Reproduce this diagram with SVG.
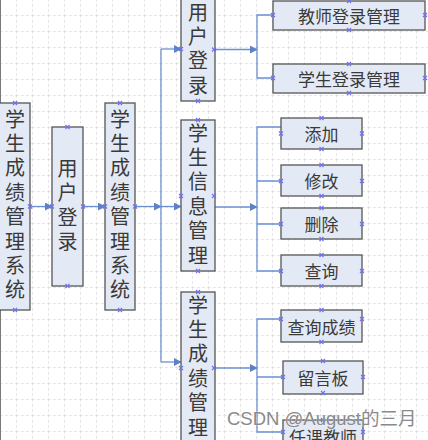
<svg xmlns="http://www.w3.org/2000/svg" width="428" height="440" viewBox="0 0 428 440">
<defs>
<pattern id="grid" patternUnits="userSpaceOnUse" x="0" y="15" width="16" height="16">
<path d="M0 0V16M0 0H16" stroke="#cfcfcf" stroke-width="1" stroke-dasharray="3 2" fill="none"/>
</pattern>
<marker id="arr" viewBox="0 0 10 10" refX="9" refY="5" markerWidth="8" markerHeight="8" markerUnits="userSpaceOnUse" orient="auto">
<path d="M0 0L10 5L0 10z" fill="#5b82c8"/>
</marker>
<symbol id="cp" viewBox="-3 -3 6 6" overflow="visible">
<path d="M-2-2L2 2M-2 2L2-2" stroke="#6f6ff0" stroke-width="1.1"/>
</symbol>
</defs>
<style>
.box{fill:#e4eaf5;stroke:#555;stroke-width:1.3}
.vt{font-family:"Noto Sans CJK SC","Noto Sans CJK JP",sans-serif;font-size:20px;fill:#3a3a3a;writing-mode:vertical-rl;text-orientation:upright;letter-spacing:4.4px}
.ht{font-family:"Noto Sans CJK SC","Noto Sans CJK JP",sans-serif;font-size:17px;fill:#3a3a3a;text-anchor:middle;dominant-baseline:central}
.ln{stroke:#6b90d2;stroke-width:1.3;fill:none}
.wm{font-family:"Liberation Sans","Noto Sans CJK SC",sans-serif;font-size:18.5px;fill:#8a8a8a;stroke:#fff;stroke-width:0.4;paint-order:stroke}
</style>
<rect width="428" height="440" fill="#fff"/>
<rect width="428" height="440" fill="url(#grid)"/>
<line x1="0.5" y1="0" x2="0.5" y2="440" stroke="#7a7a7a" stroke-width="1"/>

<g id="connectors">
<path class="ln" d="M30 206.5H52" marker-end="url(#arr)"/>
<path class="ln" d="M83 206.5H105" marker-end="url(#arr)"/>
<path class="ln" d="M135 206.5H161" marker-end="url(#arr)"/>
<path class="ln" d="M161 206.5H181" marker-end="url(#arr)"/>
<path class="ln" d="M161 49V362"/>
<path class="ln" d="M161 49H181" marker-end="url(#arr)"/>
<path class="ln" d="M161 362H181" marker-end="url(#arr)"/>
<path class="ln" d="M214 49.5H257" marker-end="url(#arr)"/>
<path class="ln" d="M273 15H257V78H273"/>
<path class="ln" d="M214 207H257" marker-end="url(#arr)"/>
<path class="ln" d="M281 127H257V271H281M257 181H281M257 224H281"/>
<path class="ln" d="M214 368H257" marker-end="url(#arr)"/>
<path class="ln" d="M281 319H257V432H283M257 377H283"/>
</g>

<g id="n-sys1">
<rect class="box" x="-1" y="103" width="31" height="207"/>
<text class="vt" x="15" y="109">学生成绩管理系统</text>
<use href="#cp" x="12" y="100" width="6" height="6"/><use href="#cp" x="27" y="203.5" width="6" height="6"/><use href="#cp" x="12" y="307" width="6" height="6"/>
</g>

<g id="n-login1">
<rect class="box" x="52" y="127" width="31" height="159"/>
<text class="vt" x="67.5" y="158" style="letter-spacing:4.5px">用户登录</text>
<use href="#cp" x="64.5" y="124" width="6" height="6"/><use href="#cp" x="49" y="203.5" width="6" height="6"/><use href="#cp" x="80" y="203.5" width="6" height="6"/><use href="#cp" x="64.5" y="283" width="6" height="6"/>
</g>

<g id="n-sys2">
<rect class="box" x="105" y="103" width="30" height="207"/>
<text class="vt" x="120" y="109">学生成绩管理系统</text>
<use href="#cp" x="117" y="100" width="6" height="6"/><use href="#cp" x="102" y="203.5" width="6" height="6"/><use href="#cp" x="132" y="203.5" width="6" height="6"/><use href="#cp" x="117" y="307" width="6" height="6"/>
</g>

<g id="n-login2">
<rect class="box" x="181" y="-10" width="34" height="111"/>
<text class="vt" x="198" y="2" style="letter-spacing:4.4px">用户登录</text>
<use href="#cp" x="178" y="46" width="6" height="6"/><use href="#cp" x="211" y="46.5" width="6" height="6"/><use href="#cp" x="195" y="98" width="6" height="6"/>
</g>

<g id="n-info">
<rect class="box" x="181" y="120" width="34" height="151"/>
<text class="vt" x="198" y="123">学生信息管理</text>
<use href="#cp" x="195" y="117" width="6" height="6"/><use href="#cp" x="178" y="193" width="6" height="6"/><use href="#cp" x="211" y="193" width="6" height="6"/><use href="#cp" x="195" y="268" width="6" height="6"/>
</g>

<g id="n-score">
<rect class="box" x="181" y="292" width="34" height="160"/>
<text class="vt" x="198" y="295">学生成绩管理</text>
<use href="#cp" x="195" y="289" width="6" height="6"/><use href="#cp" x="178" y="365" width="6" height="6"/><use href="#cp" x="211" y="365" width="6" height="6"/>
</g>

<g id="n-teacher-login">
<rect class="box" x="273" y="1" width="152" height="29"/>
<text class="ht" x="349" y="15.5">教师登录管理</text>
<use href="#cp" x="346" y="-2" width="6" height="6"/><use href="#cp" x="270" y="12" width="6" height="6"/><use href="#cp" x="422" y="12" width="6" height="6"/><use href="#cp" x="346" y="27" width="6" height="6"/>
</g>

<g id="n-student-login">
<rect class="box" x="273" y="64" width="152" height="29"/>
<text class="ht" x="349" y="78.5">学生登录管理</text>
<use href="#cp" x="346" y="61" width="6" height="6"/><use href="#cp" x="270" y="75" width="6" height="6"/><use href="#cp" x="422" y="75" width="6" height="6"/><use href="#cp" x="346" y="90" width="6" height="6"/>
</g>

<g id="n-add">
<rect class="box" x="281" y="118" width="81" height="31"/>
<text class="ht" x="321.5" y="133.5">添加</text>
<use href="#cp" x="318.5" y="115" width="6" height="6"/><use href="#cp" x="278" y="130.5" width="6" height="6"/><use href="#cp" x="359" y="130.5" width="6" height="6"/><use href="#cp" x="318.5" y="146" width="6" height="6"/>
</g>

<g id="n-edit">
<rect class="box" x="281" y="165" width="81" height="31"/>
<text class="ht" x="321.5" y="180.5">修改</text>
<use href="#cp" x="318.5" y="162" width="6" height="6"/><use href="#cp" x="278" y="178" width="6" height="6"/><use href="#cp" x="359" y="178" width="6" height="6"/><use href="#cp" x="318.5" y="193" width="6" height="6"/>
</g>

<g id="n-delete">
<rect class="box" x="281" y="208" width="81" height="31"/>
<text class="ht" x="321.5" y="223.5">删除</text>
<use href="#cp" x="318.5" y="205" width="6" height="6"/><use href="#cp" x="278" y="221" width="6" height="6"/><use href="#cp" x="359" y="221" width="6" height="6"/><use href="#cp" x="318.5" y="236" width="6" height="6"/>
</g>

<g id="n-query">
<rect class="box" x="281" y="255" width="81" height="31"/>
<text class="ht" x="321.5" y="270.5">查询</text>
<use href="#cp" x="318.5" y="252" width="6" height="6"/><use href="#cp" x="278" y="268" width="6" height="6"/><use href="#cp" x="359" y="268" width="6" height="6"/><use href="#cp" x="318.5" y="283" width="6" height="6"/>
</g>

<g id="n-query-score">
<rect class="box" x="281" y="310" width="81" height="32"/>
<text class="ht" x="321.5" y="326">查询成绩</text>
<use href="#cp" x="318.5" y="307" width="6" height="6"/><use href="#cp" x="278" y="316" width="6" height="6"/><use href="#cp" x="359" y="316" width="6" height="6"/><use href="#cp" x="318.5" y="339" width="6" height="6"/>
</g>

<g id="n-board">
<rect class="box" x="283" y="361" width="80" height="33"/>
<text class="ht" x="323" y="377.5">留言板</text>
<use href="#cp" x="320" y="358" width="6" height="6"/><use href="#cp" x="280" y="374" width="6" height="6"/><use href="#cp" x="360" y="374" width="6" height="6"/><use href="#cp" x="320" y="390" width="6" height="6"/>
</g>

<g id="n-teacher">
<rect class="box" x="283" y="420" width="80" height="32"/>
<text class="ht" x="323" y="436">任课教师</text>
<use href="#cp" x="320" y="417" width="6" height="6"/><use href="#cp" x="280" y="429" width="6" height="6"/><use href="#cp" x="360" y="429" width="6" height="6"/>
</g>

<text class="wm" x="227" y="425">CSDN @August的三月</text>
</svg>
